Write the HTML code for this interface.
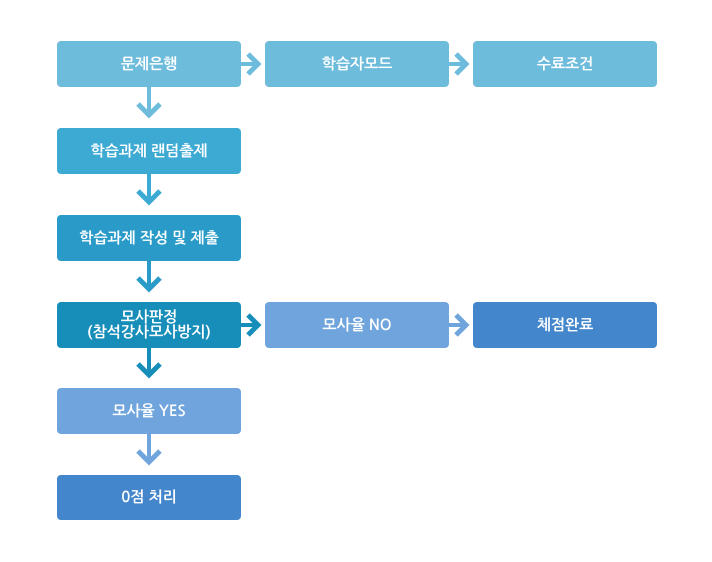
<!DOCTYPE html>
<html><head><meta charset="utf-8"><style>
html,body{margin:0;padding:0;background:#fff;}
body{width:712px;height:562px;position:relative;overflow:hidden;font-family:"Liberation Sans","NanumGothic","Noto Sans CJK KR",sans-serif;}
.b{position:absolute;width:184px;height:46px;border-radius:4px;color:#fff;display:flex;align-items:center;justify-content:center;text-align:center;font-family:"NanumGothic","Noto Sans CJK KR",sans-serif;font-weight:bold;font-size:15px;line-height:15px;}
.b2{line-height:15px;flex-direction:column;}
svg{position:absolute;left:0;top:0;}
</style></head><body>
<svg width="712" height="562" viewBox="0 0 712 562">
<g fill="none" stroke-linejoin="miter" stroke-miterlimit="10">
<!-- vertical arrows -->
<g stroke="#6ebcdc"><line x1="149" y1="86" x2="149" y2="114" stroke-width="4"/><polyline points="138,104 149,115 160,104" stroke-width="5"/></g>
<g stroke="#3daad3"><line x1="149" y1="173" x2="149" y2="201" stroke-width="4"/><polyline points="138,191 149,202 160,191" stroke-width="5"/></g>
<g stroke="#2a9bc8"><line x1="149" y1="260" x2="149" y2="288" stroke-width="4"/><polyline points="138,278 149,289 160,278" stroke-width="5"/></g>
<g stroke="#178db9"><line x1="149" y1="347" x2="149" y2="374" stroke-width="4"/><polyline points="138,364 149,375 160,364" stroke-width="5"/></g>
<g stroke="#6fa4dc"><line x1="149" y1="433" x2="149" y2="461" stroke-width="4"/><polyline points="138,451 149,462 160,451" stroke-width="5"/></g>
<!-- horizontal arrows -->
<g stroke="#6ebcdc"><line x1="240" y1="64" x2="257" y2="64" stroke-width="4"/><polyline points="248,54 258,64 248,74" stroke-width="5"/></g>
<g stroke="#6ebcdc"><line x1="448" y1="64" x2="465" y2="64" stroke-width="4"/><polyline points="456,54 466,64 456,74" stroke-width="5"/></g>
<g stroke="#178db9"><line x1="240" y1="325" x2="257" y2="325" stroke-width="4"/><polyline points="248,315 258,325 248,335" stroke-width="5"/></g>
<g stroke="#6fa4dc"><line x1="448" y1="325" x2="465" y2="325" stroke-width="4"/><polyline points="456,315 466,325 456,335" stroke-width="5"/></g>
</g>
</svg>
<div class="b" style="left:57px;top:41px;background:#6ebcdc;">문제은행</div>
<div class="b" style="left:265px;top:41px;background:#6ebcdc;">학습자모드</div>
<div class="b" style="left:473px;top:41px;background:#6ebcdc;">수료조건</div>
<div class="b" style="left:57px;top:128px;background:#3daad3;">학습과제 랜덤출제</div>
<div class="b" style="left:57px;top:215px;background:#2a9bc8;">학습과제 작성 및 제출</div>
<div class="b b2" style="left:57px;top:302px;background:#178db9;"><div>모사판정</div><div>(참석강사모사방지)</div></div>
<div class="b" style="left:265px;top:302px;background:#6fa4dc;">모사율 NO</div>
<div class="b" style="left:473px;top:302px;background:#4386cc;">체점완료</div>
<div class="b" style="left:57px;top:388px;background:#6fa4dc;">모사율 YES</div>
<div class="b" style="left:57px;top:475px;height:45px;background:#4386cc;">0점 처리</div>
</body></html>
